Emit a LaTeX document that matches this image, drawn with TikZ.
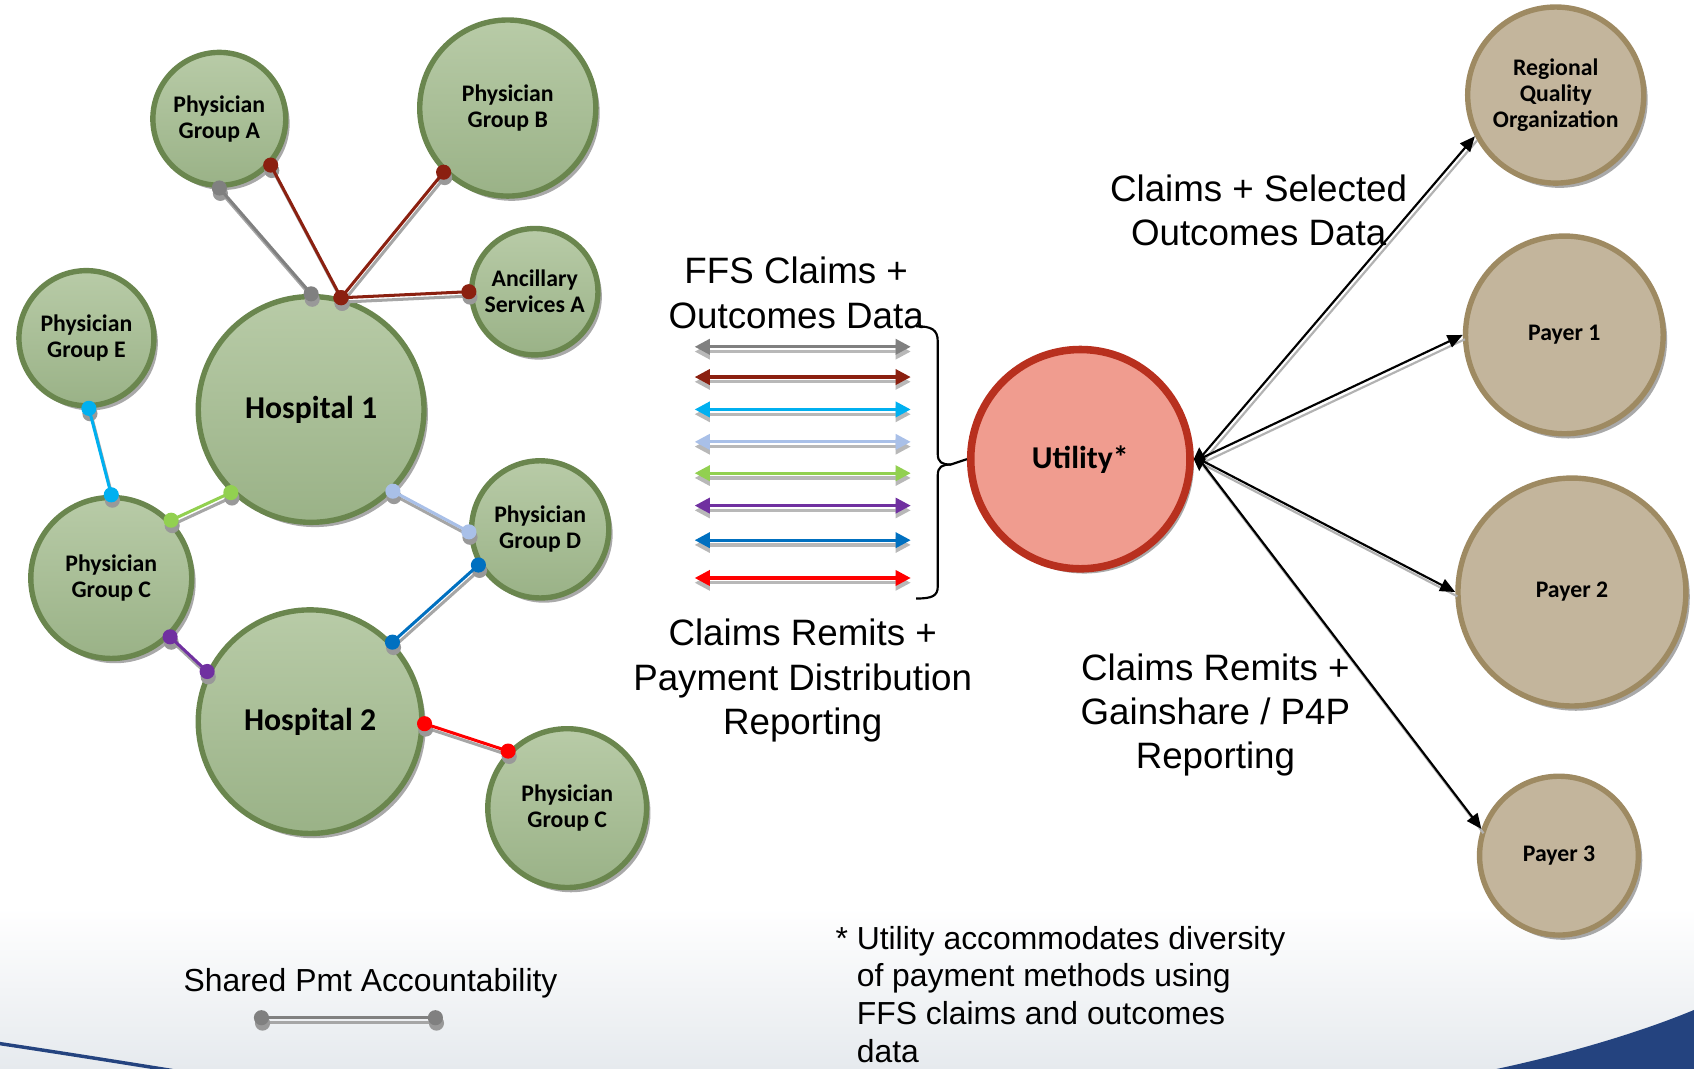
\documentclass[tikz,border=0pt]{standalone}
\usepackage{fontspec}
\setmainfont{Liberation Sans}
\newfontfamily\nodefont{Carlito}
\usetikzlibrary{arrows.meta,shadows,calc}

\definecolor{grnTop}{HTML}{B8CBA7}
\definecolor{grnBot}{HTML}{9AB287}
\definecolor{grnEdge}{HTML}{6A864E}
\definecolor{tanFill}{HTML}{C3B59C}
\definecolor{tanEdge}{HTML}{9E8A62}
\definecolor{utilFill}{HTML}{F09C8F}
\definecolor{utilEdge}{HTML}{B8301E}
\definecolor{cGray}{HTML}{808080}
\definecolor{cMaroon}{HTML}{8B2010}
\definecolor{cCyan}{HTML}{00B0F0}
\definecolor{cLav}{HTML}{A9C0E8}
\definecolor{cLime}{HTML}{92D050}
\definecolor{cPurple}{HTML}{7030A0}
\definecolor{cBlue}{HTML}{0070C0}
\definecolor{cRed}{HTML}{FF0000}
\definecolor{swoosh}{HTML}{24437F}
\definecolor{floorGray}{HTML}{E6EAEE}

\tikzset{
  orgshadow/.style={drop shadow={shadow xshift=1.8pt,shadow yshift=-2.2pt,fill=black!45,opacity=0.75}},
  gnode/.style={circle,draw=grnEdge,line width=2.5pt,top color=grnTop,bottom color=grnBot,
    orgshadow,align=center,inner sep=0pt,
    font=\nodefont\bfseries\fontsize{11}{12}\selectfont},
  hosp/.style={gnode,font=\nodefont\bfseries\fontsize{14.7}{16}\selectfont},
  tnode/.style={circle,draw=tanEdge,line width=2.5pt,fill=tanFill,
    orgshadow,align=center,inner sep=0pt,
    font=\nodefont\bfseries\fontsize{11}{12}\selectfont},
  unode/.style={circle,draw=utilEdge,line width=3.5pt,fill=utilFill,
    orgshadow,align=center,inner sep=0pt,
    font=\nodefont\bfseries\fontsize{14.7}{16}\selectfont},
  biglabel/.style={align=center,inner sep=0pt,font=\fontsize{17}{20.5}\selectfont},
  flow/.style={line width=1.5pt,{Triangle[length=7pt,width=7pt]}-{Triangle[length=7pt,width=7pt]}},
  flowshadow/.style={line width=1.5pt,black!28,{Triangle[length=7pt,width=7pt]}-{Triangle[length=7pt,width=7pt]}},
  outarrow/.style={line width=1pt,black,-{Triangle[length=7pt,width=6pt]}},
  outshadow/.style={line width=1pt,black!30},
}

% coloured link with end dots and a soft shadow
\newcommand\orglink[3]{%
  \draw[line width=1.4pt,black!35] ([shift={(0.8pt,-2pt)}]#2) -- ([shift={(0.8pt,-2pt)}]#3);
  \fill[black!40] ([shift={(0.5pt,-2.5pt)}]#2) circle (3.5pt) ([shift={(0.5pt,-2.5pt)}]#3) circle (3.5pt);
  \draw[line width=1.4pt,#1] (#2) -- (#3);
  \fill[#1] (#2) circle (3.5pt) (#3) circle (3.5pt);
}

\begin{document}
\begin{tikzpicture}[x=0.5pt,y=-0.5pt]
\useasboundingbox (0,0) rectangle (1568,989);

% floor and swooshes
\shade[top color=white,bottom color=floorGray] (0,840) rectangle (1568,989);
\draw[swoosh,line width=1.6pt] (0,966) .. controls (60,975) and (110,983) .. (160,991);
\fill[swoosh] (1378,991) .. controls (1450,976) and (1520,955) .. (1570,934) -- (1570,991) -- cycle;

% provider network
\node[gnode,minimum size=61.5pt] (pga) at (203,110) {Physician\\Group A};
\node[gnode,minimum size=81.5pt] (pgb) at (470,100) {Physician\\Group B};
\node[gnode,minimum size=58.5pt] (anc) at (495,270) {Ancillary\\Services A};
\node[gnode,minimum size=62.5pt] (pge) at (80,313) {Physician\\Group E};
\node[hosp,minimum size=104.5pt] (h1) at (288,379) {Hospital 1};
\node[gnode,minimum size=63.5pt] (pgd) at (500,490) {Physician\\Group D};
\node[gnode,minimum size=74.5pt] (pgcl) at (103,535) {Physician\\Group C};
\node[hosp,minimum size=103.5pt] (h2) at (287,668) {Hospital 2};
\node[gnode,minimum size=73.5pt] (pgcr) at (525,748) {Physician\\Group C};

\orglink{cGray}{pga.-90}{h1.90}
\orglink{cMaroon}{pga.-42}{h1.75}
\orglink{cMaroon}{pgb.-135}{h1.75}
\orglink{cMaroon}{anc.180}{h1.75}
\orglink{cCyan}{pge.-88}{pgcl.90}
\orglink{cLime}{h1.226}{pgcl.44}
\orglink{cLav}{h1.-45}{pgd.182}
\orglink{cBlue}{pgd.210}{h2.44}
\orglink{cPurple}{pgcl.-45}{h2.154}
\orglink{cRed}{h2.-1}{pgcr.136}

% utility and receivers
\node[unode,minimum size=101.5pt] (util) at (1000,425) {\raisebox{-3pt}{Utility*}};
\node[tnode,minimum size=81.5pt] (rqo) at (1440,88) {Regional\\Quality\\Organization};
\node[tnode,minimum size=91.5pt] (p1) at (1448,310) {Payer 1};
\node[tnode,minimum size=105.5pt] (p2) at (1455,548) {Payer 2};
\node[tnode,minimum size=73.5pt] (p3) at (1443,792) {Payer 3};

% data flows between providers and the utility
\foreach \col/\yy [count=\i] in {cGray/321,cMaroon/349,cCyan/379,cLav/409,cLime/438,cPurple/468,cBlue/500,cRed/535}{
  \coordinate (fl\i) at (643,\yy);
  \coordinate (fr\i) at (843,\yy);
  \draw[flowshadow] ([yshift=-2.2pt]fl\i) -- ([yshift=-2.2pt]fr\i);
  \draw[flow,\col] (fl\i) -- (fr\i);
}

% brace collecting the flows
\draw[line width=1pt] (848,302) .. controls (862,302) and (868,305) .. (868,316)
  -- (868,420) .. controls (868,428) and (872,430) .. (880,430) -- (util.west);
\draw[line width=1pt] (880,430) .. controls (872,430) and (868,432) .. (868,440)
  -- (868,543) .. controls (868,552) and (862,554) .. (848,554);

% outgoing flows from the utility
\coordinate (hub) at (1110,425);
\foreach \tgt in {rqo.207,p1.180,p2.180,p3.161}{
  \draw[outshadow] ([shift={(1pt,-2pt)}]hub) -- ([shift={(1pt,-2pt)}]\tgt);
  \draw[outarrow] (hub) -- (\tgt);
}
\fill (hub) ++(0,-11) -- ++(6,11) -- ++(-6,11) -- ++(-5,-11) -- cycle;

% labels
\node[biglabel] (lblffs) at (737,271) {FFS Claims +\\Outcomes Data};
\node[biglabel] (lblrem) at (743,630) {Claims Remits +\\Payment Distribution\\Reporting};
\node[biglabel] (lblsel) at (1165,195) {Claims + Selected\\Outcomes Data};
\node[biglabel] (lblgain) at (1125,662) {Claims Remits +\\Gainshare / P4P\\Reporting};

% legend
\node[inner sep=0pt,font=\fontsize{14.75}{17}\selectfont] (lgd) at (343,910) {Shared Pmt Accountability};
\coordinate (lg1) at (242,942);
\coordinate (lg2) at (403,942);
\orglink{cGray}{lg1}{lg2}

% footnote
\node[anchor=north west,inner sep=0pt,align=left,font=\fontsize{14.75}{17.4}\selectfont] (note) at (773,857)
  {* Utility accommodates diversity\\
   \phantom{* }of payment methods using\\
   \phantom{* }FFS claims and outcomes\\
   \phantom{* }data};
\end{tikzpicture}
\end{document}
